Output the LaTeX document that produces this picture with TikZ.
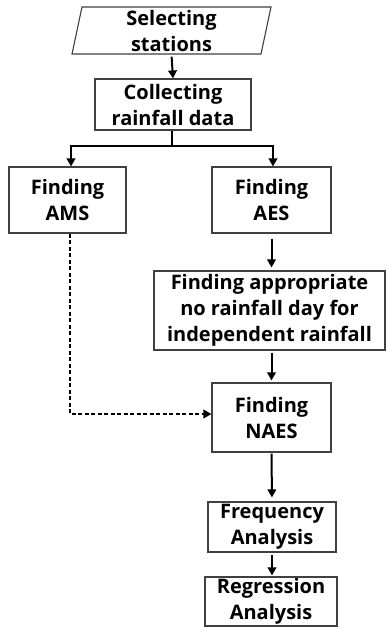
\documentclass[tikz,border=0pt]{standalone}
\usepackage{fontspec}
\setmainfont{Open Sans}
\usetikzlibrary{arrows.meta}
\begin{document}
\begin{tikzpicture}[x=1pt,y=-1pt,
  lbl/.style={font=\bfseries\fontsize{20}{26}\selectfont, align=center, inner sep=0pt},
  box/.style={lbl, draw=black!75, line width=1.1pt},
  arr/.style={draw=black, line width=2pt, -{Triangle[length=8pt,width=8.5pt]}},
  dsh/.style={draw=black, line width=2pt, dash pattern=on 4pt off 2.5pt, -{Triangle[length=8pt,width=8.5pt]}}
]
\useasboundingbox (0,0) rectangle (386,627);
% parallelogram
\draw[black!75, line width=1.1pt] (82,7) -- (271,7) -- (261,54) -- (72,54) -- cycle;
\node[lbl, minimum height=47pt, minimum width=150pt] (sel) at (171.5,31) {Selecting\\stations};
\node[box, minimum width=156pt, minimum height=51pt] (coll) at (173,104.5) {Collecting\\rainfall data};
\node[box, minimum width=117pt, minimum height=66pt] (ams) at (67.5,200) {Finding\\AMS};
\node[box, minimum width=119pt, minimum height=66pt] (aes) at (271.5,200) {Finding\\AES};
\node[box, minimum width=231pt, minimum height=79pt] (appr) at (269.5,310.5) {Finding appropriate\\no rainfall day for\\independent rainfall};
\node[box, minimum width=119pt, minimum height=69pt] (naes) at (271.5,417.5) {Finding\\NAES};
\node[box, minimum width=128pt, minimum height=50pt] (freq) at (272,527) {Frequency\\Analysis};
\node[box, minimum width=132pt, minimum height=49pt] (reg) at (271,601.5) {Regression\\Analysis};
\coordinate (br) at (172,146);
\draw[arr, shorten <=2pt] (sel.south) -- (coll.north);
\draw[black, line width=2pt] ([xshift=-1pt]coll.south) -- (br);
\draw[arr] (br) -| ([xshift=3.5pt]ams.north);
\draw[arr] (br) -| ([xshift=1.5pt]aes.north);
\draw[arr, shorten <=5pt, shorten >=3pt] (aes.south) -- (aes.south |- appr.north);
\draw[arr, shorten <=2pt, shorten >=2pt] (aes.south |- appr.south) -- (naes.north);
\draw[arr, shorten <=1pt, shorten >=4pt] (naes.south) -- (freq.north);
\draw[arr, shorten <=2pt, shorten >=1pt] (freq.south) -- (freq.south |- reg.north);
\draw[dsh] ([xshift=2.5pt]ams.south) |- ([yshift=3.5pt]naes.west);
\end{tikzpicture}
\end{document}
